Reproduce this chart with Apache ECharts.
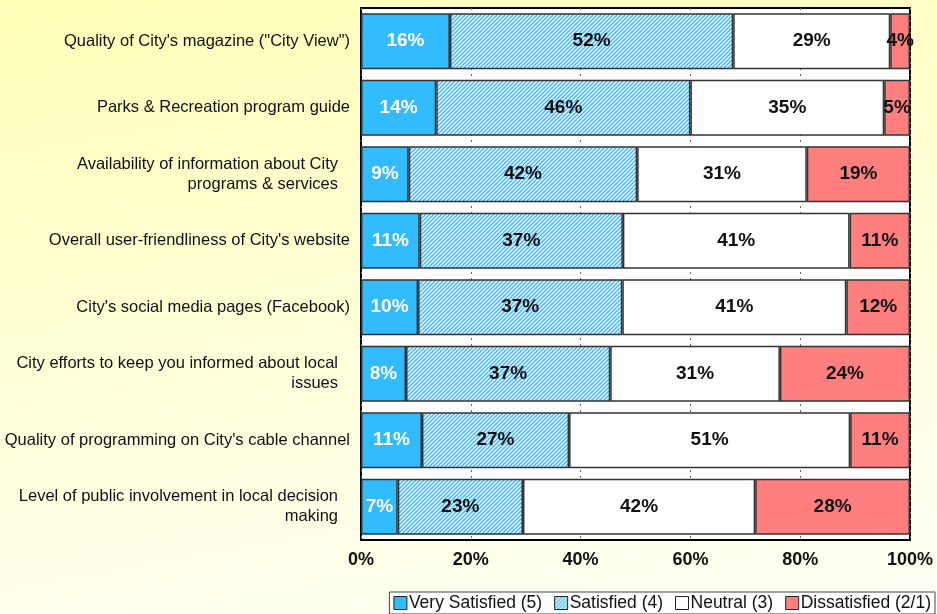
<!DOCTYPE html>
<html>
<head>
<meta charset="utf-8">
<script src="https://cdn.jsdelivr.net/npm/echarts@6/dist/echarts.min.js"></script>
<style>
    html, body { margin: 0; padding: 0; }
    body { background: linear-gradient(170deg, #ffffb8 0%, #ffffd6 45%, #fffff8 100%); }
    #chart { width: 937px; height: 614px; }
</style>
</head>
<body>
<div id="chart"></div>
<script>
const categories = [
    'Quality of City\'s magazine ("City View")',
    'Parks & Recreation program guide',
    'Availability of information about City\nprograms & services',
    'Overall user-friendliness of City\'s website',
    'City\'s social media pages (Facebook)',
    'City efforts to keep you informed about local\nissues',
    'Quality of programming on City\'s cable channel',
    'Level of public involvement in local decision\nmaking',
];
const verySatisfied = [16.2, 13.7, 8.7, 10.7, 10.4, 8.2, 11.1, 6.7];
const satisfied = [51.6, 46.3, 41.6, 37.0, 37.2, 37.2, 26.8, 22.8];
const neutral = [28.6, 35.3, 30.9, 41.3, 40.8, 30.9, 51.2, 42.3];
const dissatisfied = [3.6, 4.7, 18.8, 11.0, 11.6, 23.7, 10.9, 28.2];
const seriesNames = ['Very Satisfied (5)', 'Satisfied (4)', 'Neutral (3)', 'Dissatisfied (2/1)'];
const xTicks = [0, 20, 40, 60, 80, 100];

// hatch pattern for "Satisfied"
function makeHatch() {
    const n = 4;
    const c = document.createElement('canvas');
    c.width = n;
    c.height = n;
    const ctx = c.getContext('2d');
    ctx.fillStyle = '#f4fbff';
    ctx.fillRect(0, 0, n, n);
    ctx.strokeStyle = '#40b8f4';
    ctx.lineWidth = 1.4;
    ctx.beginPath();
    ctx.moveTo(0, n); ctx.lineTo(n, 0);
    ctx.moveTo(-1, 1); ctx.lineTo(1, -1);
    ctx.moveTo(n - 1, n + 1); ctx.lineTo(n + 1, n - 1);
    ctx.stroke();
    return c;
}

function initChart() {
    const el = document.getElementById('chart');
    let myChart = echarts.getInstanceByDom(el);
    if (!myChart) {
        myChart = echarts.init(el);
    }

    const colors = ['#33bbff', { image: makeHatch(), repeat: 'repeat' }, '#ffffff', '#ff7f7f'];
    const labelColors = ['#ffffff', '#111', '#111', '#111'];
    const allData = [verySatisfied, satisfied, neutral, dissatisfied];

    const series = seriesNames.map((name, i) => ({
        name: name,
        type: 'bar',
        stack: 'total',
        barWidth: '84%',
        data: allData[i],
        itemStyle: {
            color: colors[i],
            borderColor: '#333',
            borderWidth: 1.5,
        },
        label: {
            show: true,
            position: 'inside',
            formatter: (p) => Math.round(p.value) + '%',
            color: labelColors[i],
            fontFamily: 'Liberation Sans, Arial, sans-serif',
            fontWeight: 'bold',
            fontSize: 19,
        },
        emphasis: { disabled: true },
    }));

    const option = {
        animation: false,
        backgroundColor: 'transparent',
        textStyle: { fontFamily: 'Liberation Sans, Arial, sans-serif' },
        grid: {
            left: 361,
            right: 27,
            top: 8,
            bottom: 74,
            show: true,
            backgroundColor: '#ffffff',
            borderColor: '#000',
            borderWidth: 2,
        },
        legend: {
            data: seriesNames,
            right: 2,
            top: 592,
            itemWidth: 13,
            itemHeight: 13,
            itemGap: 12,
            padding: [2, 4, 2, 4],
            borderColor: '#444',
            borderWidth: 1,
            backgroundColor: '#ffffff',
            borderRadius: 0,
            icon: 'rect',
            itemStyle: { borderColor: '#222', borderWidth: 1 },
            textStyle: { fontSize: 17.5, color: '#111', padding: [0, 0, 0, -3] },
        },
        xAxis: {
            type: 'value',
            min: 0,
            max: 100,
            interval: 20,
            axisLine: { show: false },
            axisTick: { show: false },
            splitLine: {
                show: true,
                lineStyle: { color: '#666', type: [2, 4], width: 1 },
            },
            axisLabel: {
                margin: 11,
                formatter: (v) => (xTicks.includes(v) ? v + '%' : ''),
                color: '#111',
                fontWeight: 'bold',
                fontSize: 18,
            },
        },
        yAxis: {
            type: 'category',
            inverse: true,
            data: categories,
            axisLine: { show: false },
            axisTick: { show: false },
            axisLabel: {
                margin: 11,
                color: '#111',
                fontSize: 16.5,
                lineHeight: 20,
                formatter: (v) => (v.includes('\n') ? v.split('\n').map((s) => '{w|' + s + '}').join('\n') : v),
                rich: {
                    w: { fontSize: 16.5, color: '#111', lineHeight: 20, padding: [0, 12, 0, 0] },
                },
            },
        },
        series: series,
    };

    myChart.setOption(option, true);
}

initChart();
</script>
</body>
</html>
